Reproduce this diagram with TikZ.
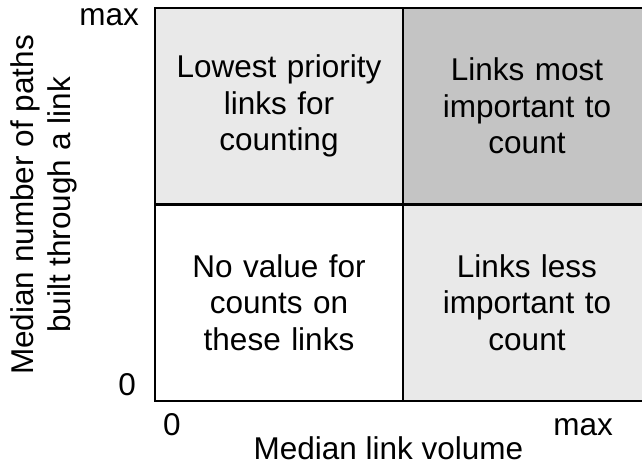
\documentclass[tikz,border=0pt]{standalone}
\usepackage{fontspec}
\setmainfont{Liberation Sans}
\begin{document}
\begin{tikzpicture}[x=1pt,y=-1pt,
  every node/.style={font=\fontsize{31.5}{36.5}\selectfont, inner sep=0pt, text=black},
  cell/.style={draw=black, line width=2.5pt, minimum width=248pt, minimum height=196.5pt,
               align=center, text width=240pt},
  lowfill/.style={fill=lightcell},
  highfill/.style={fill=darkcell},
  tick/.style={anchor=base}]
\definecolor{lightcell}{RGB}{233,233,233}
\definecolor{darkcell}{RGB}{196,196,196}
\useasboundingbox (0,0) rectangle (642,466);
\clip (0,0) rectangle (642,466);

% quadrant cells
\node[cell, fill=white]  (bl) at (279,302.5) {No value for\\counts on\\these links};
\node[cell, lowfill]     (br) at (527,302.5) {Links less\\important to\\count};
\node[cell, lowfill]     (tl) at (279,106)   {Lowest priority\\links for\\counting};
\node[cell, highfill]    (tr) at (527,106)   {Links most\\important to\\count};

% axis ends
\node[tick, anchor=base east] (ymax) at (139,25)  {max};
\node[tick, anchor=base east] (ymin) at (136,395) {0};
\node[tick, anchor=base west] (xmin) at (163,435) {0};
\node[tick, anchor=base east] (xmax) at (613,435) {max};

% axis titles
\node[tick, text depth=0pt] (xlabel) at (388.5,459.5) {Median link volume};
\node[rotate=90, align=center] (ylabel) at (44,205) {Median number of paths\\built through a link};
\end{tikzpicture}
\end{document}
